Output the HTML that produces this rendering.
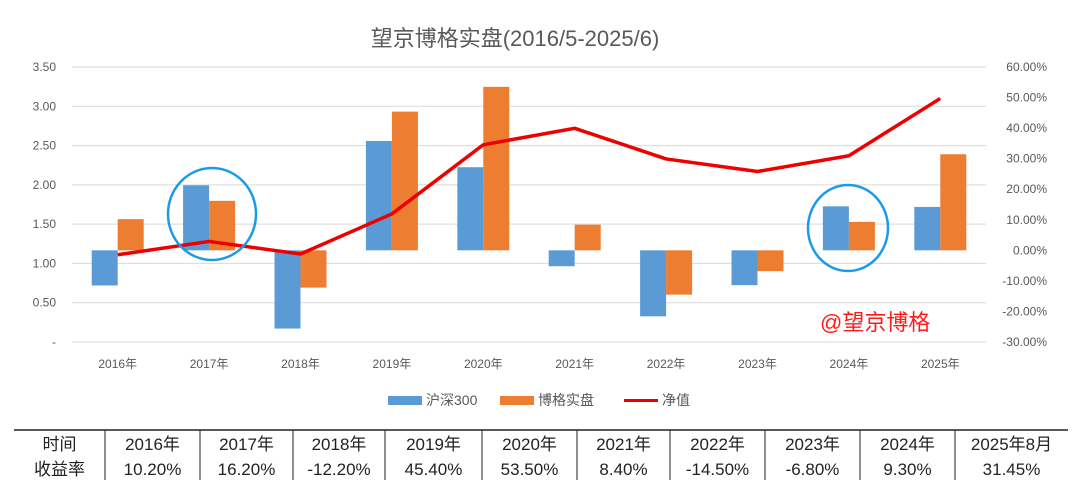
<!DOCTYPE html>
<html><head><meta charset="utf-8"><style>
body{margin:0;background:#fff;width:1080px;height:482px;overflow:hidden}
svg text{font-family:"Liberation Sans","Noto Sans CJK SC",sans-serif}
</style></head><body>
<svg id="c" width="1080" height="482" xmlns="http://www.w3.org/2000/svg">
<text x="515" y="46" font-size="22" fill="#595959" text-anchor="middle">望京博格实盘(2016/5-2025/6)</text>
<g id="grid"></g><g id="bars"></g><g id="line"></g><g id="axes"></g>
<ellipse cx="212" cy="214" rx="44" ry="46" fill="none" stroke="#1a9be8" stroke-width="2.5"/>
<ellipse cx="848" cy="228" rx="40" ry="43" fill="none" stroke="#1a9be8" stroke-width="2.5"/>
<text x="820" y="330" font-size="22" fill="#ff1a1a">@望京博格</text>
<g>
<rect x="388" y="396" width="34" height="9" fill="#5b9bd5"/>
<text x="426" y="405" font-size="14" fill="#595959">沪深300</text>
<rect x="500" y="396" width="34" height="9" fill="#ed7d31"/>
<text x="538" y="405" font-size="14" fill="#595959">博格实盘</text>
<line x1="624" y1="400.5" x2="658" y2="400.5" stroke="#e00" stroke-width="3"/>
<text x="662" y="405" font-size="14" fill="#595959">净值</text>
</g>
<g id="table"></g>
</svg>
<script>
const cats=['2016年','2017年','2018年','2019年','2020年','2021年','2022年','2023年','2024年','2025年'];
const hs300=[-11.5,21.3,-25.6,35.8,27.2,-5.2,-21.6,-11.4,14.4,14.2];
const boge=[10.2,16.2,-12.2,45.4,53.5,8.4,-14.5,-6.8,9.3,31.45];
const nav=[1.11,1.28,1.12,1.63,2.51,2.72,2.33,2.17,2.37,3.10];
const leftTicks=[0,0.5,1,1.5,2,2.5,3,3.5];
const leftLabels=['-','0.50','1.00','1.50','2.00','2.50','3.00','3.50'];
const rightTicks=[-30,-20,-10,0,10,20,30,40,50,60];
const tblHead=['时间','2016年','2017年','2018年','2019年','2020年','2021年','2022年','2023年','2024年','2025年8月'];
const tblRow=['收益率','10.20%','16.20%','-12.20%','45.40%','53.50%','8.40%','-14.50%','-6.80%','9.30%','31.45%'];
const NS='http://www.w3.org/2000/svg';
const X0=72,X1=986,TOP=67,BOT=342;
const bw=(X1-X0)/cats.length;
const cx=i=>X0+bw*(i+0.5);
const yL=v=>BOT-(v/3.5)*(BOT-TOP);
const yR=v=>BOT-((v+30)/90)*(BOT-TOP);
function mk(t,a,p){const e=document.createElementNS(NS,t);for(const k in a)e.setAttribute(k,a[k]);p.appendChild(e);return e;}
const G=document.getElementById('grid'),B=document.getElementById('bars'),L=document.getElementById('line'),A=document.getElementById('axes'),T=document.getElementById('table');
leftTicks.forEach((v,i)=>{
 const g=mk('line',{x1:X0,x2:X1,y1:yL(v),y2:yL(v),stroke:'#d9d9d9','stroke-width':1},G);
 
 
 const t=mk('text',{x:56,y:yL(v)+4,'font-size':12,fill:'#595959','text-anchor':'end'},A);
 t.textContent=leftLabels[i];
 
 
});
rightTicks.forEach(v=>{
 const t=mk('text',{x:1047,y:yR(v)+4,'font-size':12,fill:'#595959','text-anchor':'end'},A);
 t.textContent=v.toFixed(2)+'%';
 
 
});
const barW=26;
cats.forEach((c,i)=>{
 const t=mk('text',{x:cx(i),y:368,'font-size':12,fill:'#595959','text-anchor':'middle'},A);
 t.textContent=c;
 
 
 [[hs300[i],'#5b9bd5',-barW,'bar-hs300'],[boge[i],'#ed7d31',0,'bar-boge']].forEach(([v,col,off,n])=>{
  const y0=yR(0),y1=yR(v);
  const r=mk('rect',{x:cx(i)+off,y:Math.min(y0,y1),width:barW,height:Math.abs(y1-y0),fill:col},B);
  
  
 });
});
const pl=mk('polyline',{points:nav.map((v,i)=>cx(i)+','+yL(v)).join(' '),fill:'none',stroke:'#e00','stroke-width':3.5,'stroke-linejoin':'round'},L);


const cols=[14,105,200,293,385,482,577,670,765,860,955,1068];
const r1=430,r2=455,r3=480;
const hl=mk('line',{x1:14,x2:1068,y1:r1,y2:r1,stroke:'#222','stroke-width':1.5},T);


for(let i=1;i<cols.length-1;i++){
 const v=mk('line',{x1:cols[i],x2:cols[i],y1:r1,y2:r3,stroke:'#222','stroke-width':1},T);
 
 
}
tblHead.forEach((h,i)=>{
 const m=(cols[i]+cols[i+1])/2;
 const a=mk('text',{x:m,y:450,'font-size':17,fill:'#222','text-anchor':'middle'},T);
 a.textContent=h;
 
 
 const b=mk('text',{x:m,y:475,'font-size':17,fill:'#222','text-anchor':'middle'},T);
 b.textContent=tblRow[i];
 
 
});
</script>
</body></html>
